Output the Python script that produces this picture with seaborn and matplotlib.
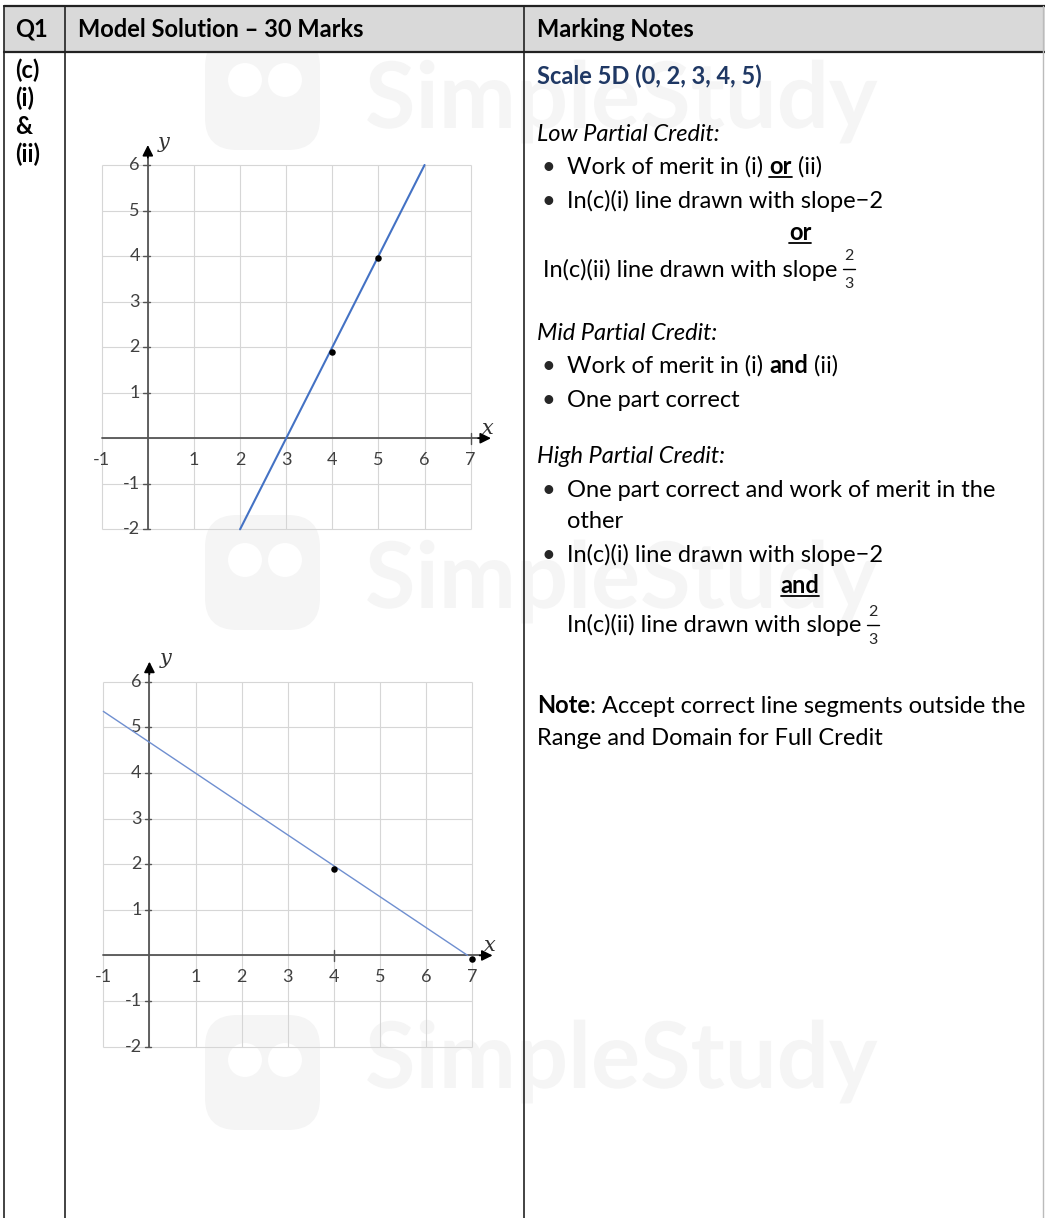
import numpy as np
import pandas as pd
import matplotlib
matplotlib.use("Agg")
import matplotlib.pyplot as plt
import seaborn as sns
from matplotlib.patches import Rectangle, FancyBboxPatch, Circle, PathPatch
from matplotlib.textpath import TextPath
from matplotlib.font_manager import FontProperties
from matplotlib.transforms import Affine2D

sns.set_theme(style="white")
plt.rcParams['font.family'] = ['Lato', 'DejaVu Sans']

# ---- chart data ----
grid_x = [-1, 0, 1, 2, 3, 4, 5, 6, 7]
grid_y = [-2, -1, 0, 1, 2, 3, 4, 5, 6]
x_tick_labels = [-1, 1, 2, 3, 4, 5, 6, 7]
y_tick_labels = [-2, -1, 1, 2, 3, 4, 5, 6]

# (c)(i): line with slope 2
line1_x = [2, 6]
line1_y = [-2, 6]
pts1_x = [4, 5]
pts1_y = [1.9, 3.95]

# (c)(ii): line with slope -2/3
line2_x = [-1, 6.9]
line2_y = [5.35, 0.0]
pts2_x = [4, 7]
pts2_y = [1.9, -0.07]

W, H = 1045, 1218
FS = 17
fig = plt.figure(figsize=(W / 100, H / 100), dpi=100)
bg = fig.add_axes([0, 0, 1, 1])
bg.set_xlim(0, W)
bg.set_ylim(H, 0)
bg.axis('off')
renderer = fig.canvas.get_renderer()

# watermarks (drawn as shapes, behind everything)
wm = '#f5f5f5'
wm_font = FontProperties(family='Lato', weight='bold')
for ly, ty in [(25, 128), (505, 608), (1005, 1088)]:
    bg.add_patch(FancyBboxPatch((205, ly + 10), 115, 115, boxstyle="round,pad=0,rounding_size=32",
                                fc=wm, ec='none', zorder=0))
    bg.add_patch(Circle((245, ly + 55), 17, fc='white', ec='none', zorder=0))
    bg.add_patch(Circle((285, ly + 55), 17, fc='white', ec='none', zorder=0))
    tp = TextPath((0, 0), "SimpleStudy", size=92, prop=wm_font)
    tp = Affine2D().scale(1, -1).translate(365, ty).transform_path(tp)
    bg.add_patch(PathPatch(tp, fc=wm, ec='none', zorder=0))

# table
bg.add_patch(Rectangle((4, 6), W - 4, 46, fc='#d9d9d9', ec='none', zorder=1))
bg.plot([4, W], [6, 6], color='#222222', lw=1.6, zorder=2)
bg.plot([4, W], [52, 52], color='#222222', lw=1.6, zorder=2)
for vx in [4, 65, 524]:
    bg.plot([vx, vx], [6, H], color='#222222', lw=1.2, zorder=2)
bg.plot([1043, 1043], [6, H], color='#bbbbbb', lw=1.0, zorder=2)


def piece_width(txt, **kw):
    a = bg.text(0, 0, "|" + txt + "|", **kw)
    b = bg.text(0, 0, "||", **kw)
    w = a.get_window_extent(renderer).width - b.get_window_extent(renderer).width
    a.remove()
    b.remove()
    return w


def write(x, y, pieces, size=FS, color='black'):
    for p in pieces:
        if isinstance(p, str):
            p = (p, {})
        txt, st = p
        kw = dict(fontsize=size, color=st.get('color', color),
                  fontweight='bold' if st.get('b') else 'normal',
                  fontstyle='italic' if st.get('i') else 'normal')
        bg.text(x, y, txt, va='baseline', ha='left', zorder=3, **kw)
        w = piece_width(txt, **kw)
        if st.get('u'):
            bg.plot([x, x + w], [y + 3, y + 3], color='black', lw=1.3, zorder=3)
        x += w
    return x


def centered(xc, y, txt, size=FS, **st):
    kw = dict(fontsize=size, fontweight='bold' if st.get('b') else 'normal')
    w = piece_width(txt, **kw)
    write(xc - w / 2, y, [(txt, st)], size=size)


def frac(xc, ytop, ybar, ybot):
    bg.text(xc, ytop, "2", fontsize=11.5, ha='center', va='center', zorder=3)
    bg.plot([xc - 6, xc + 6], [ybar, ybar], color='black', lw=1.0, zorder=3)
    bg.text(xc, ybot, "3", fontsize=11.5, ha='center', va='center', zorder=3)


def bullet(y, pieces):
    bg.text(548, y, "•", fontsize=FS, ha='center', va='baseline', zorder=3)
    write(567, y, pieces)


B = {'b': True}
BU = {'b': True, 'u': True}
I = {'i': True}

# header
write(15, 37, [("Q1", B)])
write(78, 37, [("Model Solution – 30 Marks", B)])
write(537, 37, [("Marking Notes", B)])

# left column labels
for yy, lab in [(78, "(c)"), (106, "(i)"), (134, "&"), (162, "(ii)")]:
    write(15, yy, [(lab, B)])

# marking notes
write(537, 84, [("Scale 5D (0, 2, 3, 4, 5)", {'b': True, 'color': '#1f3864'})])
write(537, 141, [("Low Partial Credit:", I)])
bullet(174, ["Work of merit in (i) ", ("or", BU), " (ii)"])
bullet(208, ["In(c)(i) line drawn with slope−2"])
centered(800, 240, "or", b=True, u=True)
xe = write(543, 277, ["In(c)(ii) line drawn with slope "])
frac(xe + 6, 256, 269, 284)
write(537, 340, [("Mid Partial Credit:", I)])
bullet(373, ["Work of merit in (i) ", ("and", B), " (ii)"])
bullet(407, ["One part correct"])
write(537, 463, [("High Partial Credit:", I)])
bullet(497, ["One part correct and work of merit in the"])
write(567, 528, ["other"])
bullet(562, ["In(c)(i) line drawn with slope−2"])
centered(800, 593, "and", b=True, u=True)
xe = write(567, 632, ["In(c)(ii) line drawn with slope "])
frac(xe + 6, 612, 625, 640)
write(537, 713, [("Note", B), ": Accept correct line segments outside the"])
write(537, 745, ["Range and Domain for Full Credit"])


def graph(px_l, px_r, px_t, px_b, lx, ly, lcol, lw, ptx, pty, xtick_mark):
    ux = (px_r - px_l) / 8
    uy = (px_b - px_t) / 8
    left = px_l - 0.6 * ux
    top = px_t - 0.8 * uy
    ax = fig.add_axes([left / W, 1 - (top + 9.2 * uy) / H, 9.3 * ux / W, 9.2 * uy / H])
    ax.set_xlim(-1.6, 7.7)
    ax.set_ylim(-2.4, 6.8)
    ax.axis('off')
    ax.patch.set_alpha(0)
    ax.vlines(grid_x, min(grid_y), max(grid_y), color='#d6d6d6', lw=0.8, zorder=1)
    ax.hlines(grid_y, min(grid_x), max(grid_x), color='#d6d6d6', lw=0.8, zorder=1)
    # axes with arrows
    ax.plot([-1, 7.3], [0, 0], color='#555555', lw=1.3, zorder=2)
    ax.plot([0, 0], [-2, 6.3], color='#555555', lw=1.3, zorder=2)
    ax.annotate('', xy=(7.5, 0), xytext=(7.1, 0),
                arrowprops=dict(arrowstyle='-|>', color='black', lw=1.2, mutation_scale=16), zorder=3)
    ax.annotate('', xy=(0, 6.5), xytext=(0, 6.1),
                arrowprops=dict(arrowstyle='-|>', color='black', lw=1.2, mutation_scale=16), zorder=3)
    ax.plot([xtick_mark, xtick_mark], [-0.12, 0.12], color='#555555', lw=1.0, zorder=2)
    for v in y_tick_labels:
        ax.plot([-0.1, 0.04], [v, v], color='#555555', lw=1.0, zorder=2)
        ax.text(-0.17, v, str(v), ha='right', va='center', fontsize=13, color='#404040')
    for v in x_tick_labels:
        ax.text(v, -0.48, str(v), ha='center', va='center', fontsize=13, color='#404040')
    ax.text(0.22, 6.5, "y", fontsize=15, fontstyle='italic', family='DejaVu Serif',
            ha='left', va='center', color='#333333')
    ax.text(7.38, 0.22, "x", fontsize=15, fontstyle='italic', family='DejaVu Serif',
            ha='center', va='center', color='#333333')
    sns.lineplot(x=lx, y=ly, color=lcol, lw=lw, ax=ax, zorder=4)
    sns.scatterplot(x=ptx, y=pty, color='black', s=22, linewidth=0, ax=ax, zorder=5)
    return ax


graph(101.7, 470.7, 165.0, 529.3, line1_x, line1_y, '#4472c4', 1.5, pts1_x, pts1_y, 7)
graph(103.3, 472.3, 681.7, 1046.7, line2_x, line2_y, '#6f8fd0', 1.0, pts2_x, pts2_y, 4)

fig.savefig("out.png", dpi=100)
